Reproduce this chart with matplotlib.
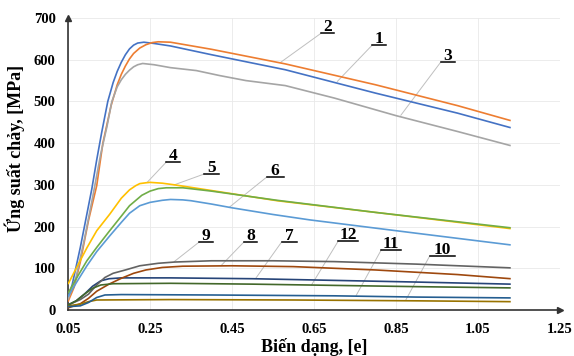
"""Flow stress vs strain curves (12 series) with numbered leader labels."""

import matplotlib
matplotlib.use("Agg")
import matplotlib.pyplot as plt

plt.rcParams["font.family"] = ["Liberation Serif", "DejaVu Serif"]
plt.rcParams["font.weight"] = "bold"

# Axis ticks
x_ticks = [0.05, 0.25, 0.45, 0.65, 0.85, 1.05, 1.25]
x_tick_labels = ["0.05", "0.25", "0.45", "0.65", "0.85", "1.05", "1.25"]
y_ticks = [0, 100, 200, 300, 400, 500, 600, 700]

# Series 1..12 (strain, stress MPa)
s1_x = [0.05, 0.06, 0.08, 0.10, 0.108, 0.12, 0.132, 0.147, 0.16, 0.17, 0.18, 0.19, 0.20, 0.21, 0.22, 0.235, 0.26, 0.30, 0.40, 0.58, 0.80, 1.00, 1.13]
s1_y = [30, 60, 150, 250, 290, 360, 425, 500, 545, 572, 594, 612, 626, 635, 640, 642, 639, 633, 612, 576, 520, 472, 437]

s2_x = [0.05, 0.065, 0.08, 0.10, 0.12, 0.135, 0.147, 0.155, 0.17, 0.18, 0.19, 0.20, 0.21, 0.225, 0.24, 0.255, 0.27, 0.30, 0.40, 0.58, 0.80, 1.00, 1.13]
s2_y = [20, 55, 115, 215, 298, 400, 454, 490, 540, 565, 585, 602, 615, 628, 636, 641, 643, 642, 625, 590, 540, 490, 454]

s3_x = [0.05, 0.07, 0.09, 0.11, 0.13, 0.145, 0.157, 0.17, 0.18, 0.19, 0.20, 0.21, 0.22, 0.232, 0.26, 0.30, 0.363, 0.42, 0.484, 0.58, 0.70, 0.85, 1.00, 1.13]
s3_y = [25, 80, 170, 270, 375, 440, 500, 535, 552, 565, 575, 583, 588, 591, 588, 581, 574, 562, 550, 538, 508, 466, 428, 394]

s4_x = [0.05, 0.07, 0.096, 0.12, 0.152, 0.18, 0.20, 0.215, 0.225, 0.24, 0.25, 0.28, 0.31, 0.35, 0.56, 0.80, 1.13]
s4_y = [62, 100, 149, 190, 230, 268, 288, 298, 303, 305, 306, 304, 300, 294, 262, 234, 195]

s5_x = [0.05, 0.07, 0.096, 0.12, 0.15, 0.18, 0.20, 0.23, 0.25, 0.27, 0.29, 0.33, 0.40, 0.56, 0.80, 1.13]
s5_y = [40, 75, 118, 150, 188, 225, 250, 275, 285, 291, 293, 293, 285, 263, 234, 197]

s6_x = [0.05, 0.07, 0.096, 0.12, 0.152, 0.18, 0.20, 0.225, 0.25, 0.28, 0.30, 0.33, 0.35, 0.40, 0.45, 0.55, 0.64, 0.90, 1.13]
s6_y = [32, 65, 106, 140, 178, 210, 232, 250, 258, 263, 265, 264, 262, 254, 245, 229, 216, 184, 156]

s7_x = [0.05, 0.07, 0.09, 0.11, 0.13, 0.15, 0.18, 0.30, 0.50, 0.70, 0.90, 1.13]
s7_y = [12, 22, 38, 57, 70, 75, 77, 77, 75, 71, 67, 62]

s8_x = [0.05, 0.08, 0.10, 0.12, 0.15, 0.18, 0.21, 0.24, 0.28, 0.33, 0.45, 0.60, 0.80, 1.00, 1.13]
s8_y = [5, 15, 28, 45, 62, 76, 88, 96, 102, 105, 106, 104, 96, 85, 75]

s9_x = [0.05, 0.08, 0.10, 0.12, 0.14, 0.16, 0.19, 0.225, 0.27, 0.31, 0.40, 0.55, 0.70, 0.90, 1.13]
s9_y = [12, 25, 38, 60, 78, 88, 96, 106, 112, 115, 118, 118, 116, 110, 101]

s10_x = [0.05, 0.08, 0.10, 0.12, 0.30, 0.60, 0.90, 1.13]
s10_y = [10, 14, 20, 24, 25, 24, 22, 20]

s11_x = [0.05, 0.08, 0.10, 0.12, 0.14, 0.18, 0.40, 0.70, 0.90, 1.13]
s11_y = [8, 10, 18, 30, 36, 37, 36, 34, 31, 29]

s12_x = [0.05, 0.07, 0.09, 0.11, 0.13, 0.16, 0.30, 0.50, 0.70, 0.90, 1.13]
s12_y = [12, 22, 38, 52, 60, 63, 64, 62, 59, 56, 53]

series = [
    (s1_x, s1_y, "#4472C4"),
    (s2_x, s2_y, "#ED7D31"),
    (s3_x, s3_y, "#A5A5A5"),
    (s4_x, s4_y, "#FFC000"),
    (s5_x, s5_y, "#70AD47"),
    (s6_x, s6_y, "#5B9BD5"),
    (s7_x, s7_y, "#264478"),
    (s8_x, s8_y, "#9E480E"),
    (s9_x, s9_y, "#636363"),
    (s10_x, s10_y, "#997300"),
    (s11_x, s11_y, "#255E91"),
    (s12_x, s12_y, "#43682B"),
]

# Callout labels: text, underline (x0, x1, y), leader end point on the curve
label_texts = ["2", "1", "3", "4", "5", "6", "9", "8", "7", "12", "11", "10"]
label_lines = [
    (0.668, 0.700, 664), (0.792, 0.826, 635), (0.959, 0.993, 594),
    (0.290, 0.324, 355), (0.382, 0.418, 326), (0.535, 0.576, 319),
    (0.370, 0.404, 163), (0.479, 0.511, 163), (0.571, 0.608, 163),
    (0.709, 0.758, 165), (0.814, 0.862, 144), (0.932, 0.993, 129),
]
label_targets = [
    (0.569, 594), (0.707, 548), (0.862, 467),
    (0.244, 307), (0.309, 300), (0.443, 246),
    (0.309, 116), (0.423, 106), (0.508, 76),
    (0.644, 60), (0.753, 35), (0.874, 24),
]

fig = plt.figure(figsize=(5.74, 3.56), dpi=100)
ax = fig.add_axes([0.1185, 0.1292, 0.857, 0.8202])

for xs, ys, c in series:
    ax.plot(xs, ys, color=c, lw=1.2, solid_capstyle="butt",
            solid_joinstyle="round", zorder=3)

for txt, (x0, x1, yl), (ex, ey) in zip(label_texts, label_lines, label_targets):
    ax.plot([x0, ex], [yl, ey], color="#BFBFBF", lw=0.7, zorder=2)
    ax.plot([x0, x1], [yl, yl], color="black", lw=1.1, zorder=4)
    ax.annotate(txt, xy=((x0 + x1) / 2, yl), xytext=(0, 1.5),
                textcoords="offset points", ha="center", va="baseline",
                fontsize=12.5, fontweight="bold", zorder=5)

ax.set_xlim(0.05, 1.25)
ax.set_ylim(0, 700)
ax.set_xticks(x_ticks)
ax.set_xticklabels(x_tick_labels)
ax.set_yticks(y_ticks)
ax.tick_params(length=0, labelsize=10.5)
ax.tick_params(axis="x", pad=9)
ax.tick_params(axis="y", pad=9)
for lab in ax.get_xticklabels() + ax.get_yticklabels():
    lab.set_fontweight("bold")

ax.grid(True, color="#E9E9E9", lw=0.6, zorder=0)
ax.set_axisbelow(True)
for side in ["top", "right"]:
    ax.spines[side].set_visible(False)
for side in ["left", "bottom"]:
    ax.spines[side].set_color("#333333")
    ax.spines[side].set_linewidth(1.2)

# arrow heads at the ends of the axes
ax.plot(1, 0, marker=">", color="#333333", ms=4, transform=ax.transAxes, clip_on=False)
ax.plot(0, 1, marker="^", color="#333333", ms=4, transform=ax.transAxes, clip_on=False)

ax.set_xlabel("Biến dạng, [e]", fontsize=13, fontweight="bold", labelpad=2)
ax.set_ylabel("Ứng suất chảy, [MPa]", fontsize=13, fontweight="bold")
ax.yaxis.set_label_coords(-0.087, 0.555)

fig.savefig("out.png", dpi=100)
